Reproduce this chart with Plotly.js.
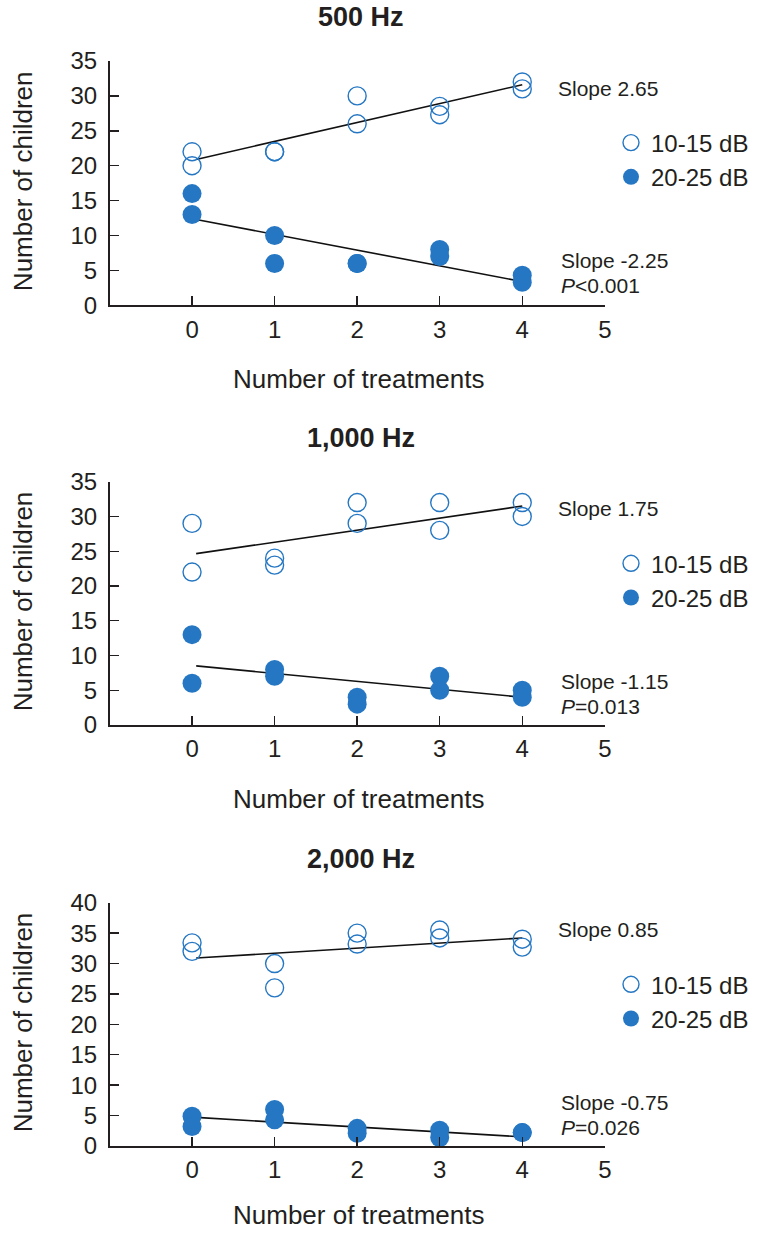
<!DOCTYPE html>
<html>
<head>
<meta charset="utf-8">
<script src="https://cdn.plot.ly/plotly-3.0.1.min.js"></script>
<style>html,body{margin:0;padding:0;background:#fff;}#chart{width:757px;height:1233px;}</style>
</head>
<body>
<div id="chart"></div>
<script>
// ---- data ----
const panelTitles = ["500 Hz", "1,000 Hz", "2,000 Hz"];
const seriesNames = ["10-15 dB", "20-25 dB"];
const xTicks = [0, 1, 2, 3, 4, 5];
const pointX = [0, 0, 1, 1, 2, 2, 3, 3, 4, 4];

const low500  = [22, 20, 22, 22, 30, 26, 28.5, 27.3, 32, 31];     // 10-15 dB
const high500 = [16, 13, 10, 6, 6, 6, 8, 7, 4.3, 3.3];           // 20-25 dB
const low1000  = [29, 22, 24, 23, 32, 29, 32, 28, 32, 30];
const high1000 = [13, 6, 8, 7, 4, 3, 7, 5, 5, 4];
const low2000  = [33.4, 32, 30, 26, 35, 33.2, 35.5, 34.2, 34, 32.7];
const high2000 = [4.9, 3.2, 6, 4.3, 2.9, 2.1, 2.6, 1.4, 2.2, 2.2];

const fitX = [0.05, 4];
const fitLow500  = [20.9, 31.6];
const fitHigh500 = [12.3, 3.4];
const fitLow1000  = [24.65, 31.5];
const fitHigh1000 = [8.5, 4.0];
const fitLow2000  = [30.9, 34.2];
const fitHigh2000 = [4.7, 1.5];

const slopeLowText  = ["Slope 2.65", "Slope 1.75", "Slope 0.85"];
const slopeHighText = ["Slope -2.25", "Slope -1.15", "Slope -0.75"];
const pText = ["<i>P</i>&lt;0.001", "<i>P</i>=0.013", "<i>P</i>=0.026"];
const yMax = [35, 35, 40];

// ---- layout geometry (pixels) ----
const W = 757, H = 1233;
const px = v => v / W;
const py = v => 1 - v / H;
const plotLeft = 109.5, plotRight = 604.8;
const plotTops = [61, 481.7, 902.7];
const plotBottoms = [305.3, 725, 1146];
const xTitleOffset = [74, 74, 69];

const BLUE = "#2577c3";
const INK = "#231f20";
const FONT = "Liberation Sans, Arial, Helvetica, sans-serif";

const lows = [low500, low1000, low2000];
const highs = [high500, high1000, high2000];
const fitLows = [fitLow500, fitLow1000, fitLow2000];
const fitHighs = [fitHigh500, fitHigh1000, fitHigh2000];

const traces = [];
const layout = {
  width: W, height: H,
  margin: {l: 0, r: 0, t: 0, b: 0},
  paper_bgcolor: "#fff", plot_bgcolor: "rgba(0,0,0,0)",
  font: {family: FONT, color: INK, size: 24},
  showlegend: true,
  annotations: []
};

for (let i = 0; i < 3; i++) {
  const sfx = i === 0 ? "" : String(i + 1);
  const xa = "x" + sfx, ya = "y" + sfx;
  const leg = "legend" + sfx;

  traces.push({
    x: fitX, y: fitLows[i], xaxis: xa, yaxis: ya, mode: "lines",
    line: {color: "#111", width: 1.6}, showlegend: false, hoverinfo: "skip"
  });
  traces.push({
    x: fitX, y: fitHighs[i], xaxis: xa, yaxis: ya, mode: "lines",
    line: {color: "#111", width: 1.6}, showlegend: false, hoverinfo: "skip"
  });
  traces.push({
    x: pointX, y: lows[i], xaxis: xa, yaxis: ya, mode: "markers",
    name: seriesNames[0], legend: leg,
    marker: {symbol: "circle-open", size: 18, color: BLUE, line: {color: BLUE, width: 1.4}}
  });
  traces.push({
    x: pointX, y: highs[i], xaxis: xa, yaxis: ya, mode: "markers",
    name: seriesNames[1], legend: leg,
    marker: {symbol: "circle", size: 19, color: BLUE}
  });

  const top = plotTops[i], bot = plotBottoms[i];
  layout["xaxis" + sfx] = {
    domain: [px(plotLeft), px(plotRight)], anchor: ya,
    range: [-1, 5], tickvals: xTicks, ticktext: xTicks.map(String),
    ticks: "inside", ticklen: 9, tickwidth: 1.4, tickcolor: INK,
    showline: true, linecolor: INK, linewidth: 1.6,
    showgrid: false, zeroline: false,
    tickfont: {size: 24, color: INK, family: FONT},
    ticklabelstandoff: 2
  };
  layout["yaxis" + sfx] = {
    domain: [py(bot), py(top)], anchor: xa,
    range: [0, yMax[i]], dtick: 5, tick0: 0,
    ticks: "inside", ticklen: 9, tickwidth: 1.4, tickcolor: INK,
    showline: true, linecolor: INK, linewidth: 1.6,
    showgrid: false, zeroline: false,
    tickfont: {size: 24, color: INK, family: FONT},
    ticklabelstandoff: 6
  };
  layout[leg] = {
    x: px(611), xanchor: "left",
    y: py(top + 99), yanchor: "middle",
    bgcolor: "rgba(0,0,0,0)", borderwidth: 0,
    font: {size: 24, color: INK, family: FONT},
    tracegroupgap: 0, itemclick: false
  };

  const ann = layout.annotations;
  // panel title
  ann.push({text: "<b>" + panelTitles[i] + "</b>", xref: "paper", yref: "paper",
    x: px(361), y: py(top - 44), xanchor: "center", yanchor: "middle",
    showarrow: false, font: {size: 27, color: INK, family: FONT}});
  // x-axis title
  ann.push({text: "Number of treatments", xref: "paper", yref: "paper",
    x: px(358), y: py(bot + xTitleOffset[i]), xanchor: "center", yanchor: "middle",
    showarrow: false, font: {size: 26, color: INK, family: FONT}});
  // y-axis title
  ann.push({text: "Number of children", xref: "paper", yref: "paper",
    x: px(23), y: py((top + bot) / 2 - 2), xanchor: "center", yanchor: "middle",
    textangle: -90, showarrow: false, font: {size: 26, color: INK, family: FONT}});
  // slope labels
  ann.push({text: slopeLowText[i], xref: "paper", yref: "paper",
    x: px(556), y: py(top + 27), xanchor: "left", yanchor: "middle",
    showarrow: false, font: {size: 21, color: INK, family: FONT}});
  ann.push({text: slopeHighText[i], xref: "paper", yref: "paper",
    x: px(559), y: py(top + 200), xanchor: "left", yanchor: "middle",
    showarrow: false, font: {size: 21, color: INK, family: FONT}});
  ann.push({text: pText[i], xref: "paper", yref: "paper",
    x: px(559), y: py(top + 225), xanchor: "left", yanchor: "middle",
    showarrow: false, font: {size: 21, color: INK, family: FONT}});
}

Plotly.newPlot("chart", traces, layout, {displayModeBar: false, staticPlot: true});
</script>
</body>
</html>
